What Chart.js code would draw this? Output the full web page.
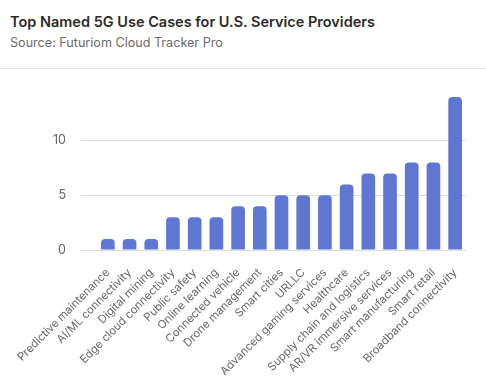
<!DOCTYPE html>
<html>
<head>
<meta charset="utf-8">
<script src="https://cdn.jsdelivr.net/npm/chart.js@4/dist/chart.umd.min.js"></script>
<style>
  html, body { margin: 0; padding: 0; background: #fff; }
  body { width: 486px; height: 383px; overflow: hidden; font-family: Inter, "Liberation Sans", sans-serif; }
  #hdr { height: 69px; border-bottom: 1px solid #e8e8e8; box-sizing: border-box; position: relative; }
  #title { position: absolute; left: 10px; top: 13px; font-size: 14.5px; font-weight: 600; color: #2b2b2b; white-space: nowrap; }
  #sub { position: absolute; left: 10px; top: 35px; font-size: 12.6px; color: #6b6b6b; white-space: nowrap; }
  #wrap { position: relative; width: 486px; height: 314px; }
</style>
</head>
<body>
<div id="hdr">
  <div id="title">Top Named 5G Use Cases for U.S. Service Providers</div>
  <div id="sub">Source: Futuriom Cloud Tracker Pro</div>
</div>
<div id="wrap"><canvas id="c"></canvas></div>
<script>
const categories = [
  "Predictive maintenance", "AI/ML connectivity", "Digital mining",
  "Edge cloud connectivity", "Public safety", "Online learning",
  "Connected vehicle", "Drone management", "Smart cities", "URLLC",
  "Advanced gaming services", "Healthcare", "Supply chain and logistics",
  "AR/VR immersive services", "Smart manufacturing", "Smart retail",
  "Broadband connectivity"
];
const counts = [1, 1, 1, 3, 3, 3, 4, 4, 5, 5, 5, 6, 7, 7, 8, 8, 14];
const yTicks = [0, 5, 10];

new Chart(document.getElementById('c'), {
  type: 'bar',
  data: {
    labels: categories,
    datasets: [{
      data: counts,
      backgroundColor: '#5f77d3',
      borderRadius: { topLeft: 4, topRight: 4, bottomLeft: 0, bottomRight: 0 },
      borderSkipped: 'bottom',
      categoryPercentage: 1.0,
      barPercentage: 0.63
    }]
  },
  options: {
    responsive: true,
    maintainAspectRatio: false,
    animation: false,
    layout: { padding: { top: 28, right: 20, left: 0, bottom: 0 } },
    plugins: { legend: { display: false }, tooltip: { enabled: false } },
    scales: {
      x: {
        grid: { display: false },
        border: { display: false },
        ticks: {
          minRotation: 45, maxRotation: 45, autoSkip: false,
          color: '#666', padding: 8,
          font: { family: 'Inter, "Liberation Sans", sans-serif', size: 11.3 }
        },
        afterFit: (s) => { s.height = 133; }
      },
      y: {
        min: 0, max: 14,
        afterBuildTicks: (s) => { s.ticks = yTicks.map(v => ({ value: v })); },
        grid: { color: '#dcdcdc', tickLength: 16, drawTicks: true, tickColor: '#dcdcdc' },
        border: { display: false },
        ticks: {
          color: '#666', padding: 15,
          font: { family: 'Inter, "Liberation Sans", sans-serif', size: 12.5 }
        },
        afterFit: (s) => { s.width = 97; }
      }
    }
  }
});
</script>
</body>
</html>
